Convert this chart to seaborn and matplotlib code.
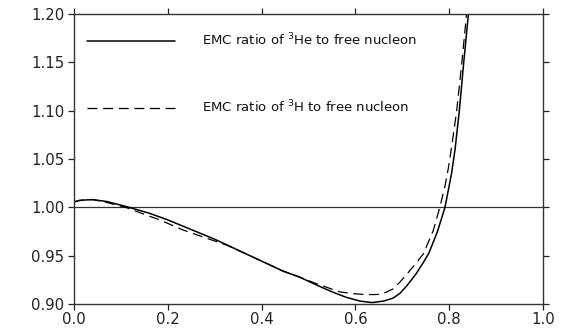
import matplotlib
matplotlib.use("Agg")
import matplotlib.pyplot as plt
import seaborn as sns
import pandas as pd

# ---- data ----
he_x = [0.0, 0.01, 0.02, 0.04, 0.07, 0.11, 0.16, 0.20, 0.23, 0.30, 0.375, 0.446,
        0.48, 0.52, 0.553, 0.58, 0.61, 0.635, 0.66, 0.68, 0.695, 0.71, 0.729,
        0.745, 0.757, 0.775, 0.791, 0.805, 0.8125, 0.8216, 0.831, 0.841]
he_y = [1.0055, 1.007, 1.0075, 1.008, 1.006, 1.001, 0.994, 0.987, 0.981, 0.967,
        0.950, 0.934, 0.928, 0.919, 0.912, 0.907, 0.903, 0.9015, 0.903, 0.906,
        0.911, 0.919, 0.931, 0.943, 0.953, 0.975, 1.000, 1.035, 1.060, 1.100,
        1.150, 1.200]

h_x = [0.0, 0.01, 0.02, 0.04, 0.07, 0.11, 0.16, 0.183, 0.23, 0.283, 0.325, 0.375,
       0.446, 0.48, 0.517, 0.567, 0.60, 0.624, 0.645, 0.66, 0.68, 0.695, 0.71,
       0.729, 0.745, 0.766, 0.780, 0.791, 0.798, 0.805, 0.816, 0.827, 0.837]
h_y = [1.0055, 1.007, 1.0075, 1.008, 1.005, 1.000, 0.991, 0.987, 0.977, 0.968,
       0.961, 0.950, 0.934, 0.928, 0.921, 0.9125, 0.9105, 0.9097, 0.9098, 0.911,
       0.9155, 0.9227, 0.931, 0.942, 0.952, 0.976, 1.000, 1.022, 1.040, 1.062,
       1.100, 1.150, 1.200]

labels = ["EMC ratio of $^3$He to free nucleon", "EMC ratio of $^3$H to free nucleon"]
x_ticks = [0.0, 0.2, 0.4, 0.6, 0.8, 1.0]
x_ticklabels = ["0.0", "0.2", "0.4", "0.6", "0.8", "1.0"]
y_ticks = [0.90, 0.95, 1.00, 1.05, 1.10, 1.15, 1.20]
y_ticklabels = ["0.90", "0.95", "1.00", "1.05", "1.10", "1.15", "1.20"]

df_he = pd.DataFrame({"x": he_x, "y": he_y})
df_h = pd.DataFrame({"x": h_x, "y": h_y})

sns.set_style("ticks")
plt.rcParams["font.family"] = ["DejaVu Sans"]

fig = plt.figure(figsize=(5.63, 3.31), dpi=100)
ax = fig.add_axes([74 / 563, 1 - 304 / 331, 469 / 563, 290 / 331])

sns.lineplot(data=df_he, x="x", y="y", ax=ax, color="black", lw=1.1,
             label=labels[0], sort=False, estimator=None)
sns.lineplot(data=df_h, x="x", y="y", ax=ax, color="black", lw=0.9,
             label=labels[1], sort=False, estimator=None)
ax.lines[1].set_dashes((8, 4.5))

ax.axhline(1.0, color="#333333", lw=0.9, zorder=1)

ax.set_xlim(0, 1)
ax.set_ylim(0.90, 1.20)
ax.set_xticks(x_ticks)
ax.set_xticklabels(x_ticklabels)
ax.set_yticks(y_ticks)
ax.set_yticklabels(y_ticklabels)
ax.set_xlabel("")
ax.set_ylabel("")

ax.tick_params(axis="both", direction="out", length=4, width=0.9,
               labelsize=10.7, colors="#222222", pad=2,
               top=True, right=True)
ax.tick_params(axis="y", pad=3)
for s in ax.spines.values():
    s.set_visible(True)
    s.set_color("#333333")
    s.set_linewidth(1.0)

leg = ax.legend(loc="upper left", bbox_to_anchor=(0.027, 0.939), frameon=False,
                fontsize=9.5, handlelength=6.67, handletextpad=2.05,
                labelspacing=3.82, borderpad=0, borderaxespad=0)
for t in leg.get_texts():
    t.set_color("#111111")

fig.savefig("out.png", dpi=100)
